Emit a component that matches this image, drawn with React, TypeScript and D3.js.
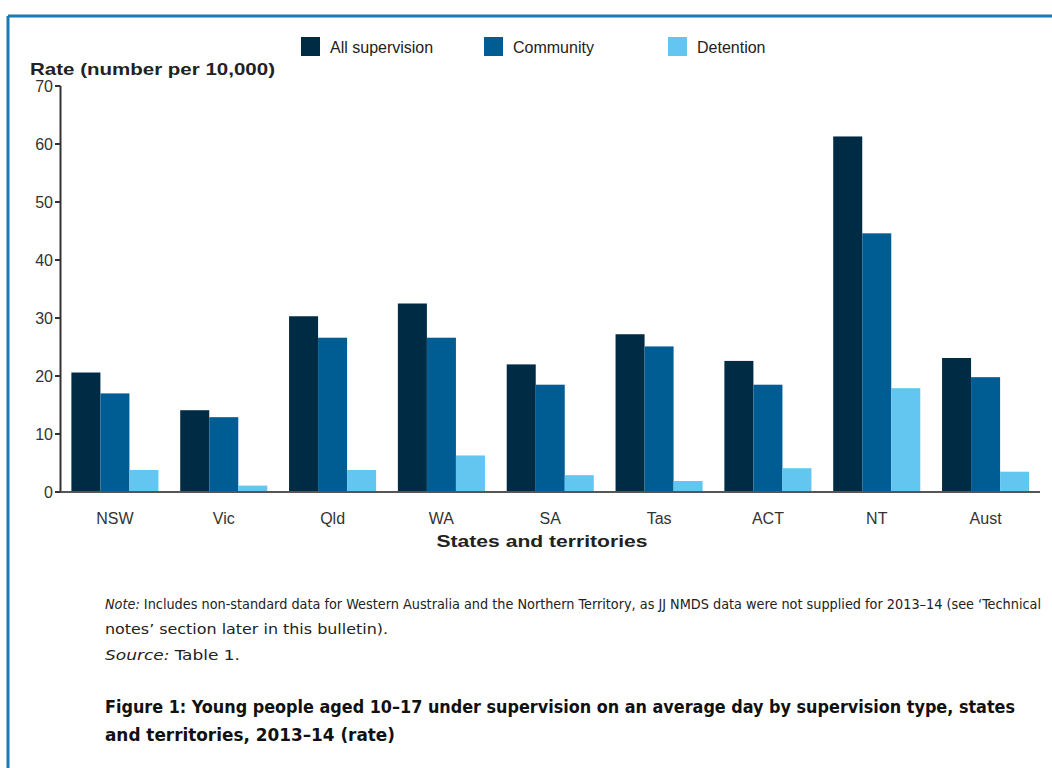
import React from "react";
import * as d3 from "d3";

const categories = ["NSW", "Vic", "Qld", "WA", "SA", "Tas", "ACT", "NT", "Aust"];
const seriesNames = ["All supervision", "Community", "Detention"];
const allSupervision = [20.6, 14.1, 30.3, 32.5, 22.0, 27.2, 22.6, 61.3, 23.1];
const community = [17.0, 12.9, 26.6, 26.6, 18.5, 25.1, 18.5, 44.6, 19.8];
const detention = [3.8, 1.1, 3.8, 6.3, 2.9, 1.9, 4.1, 17.9, 3.5];
const yTicks = [0, 10, 20, 30, 40, 50, 60, 70];
const colors = ["#002b45", "#005d94", "#62c6f0"];

const seriesValues = [allSupervision, community, detention];

export default function App() {
  const W = 1052;
  const H = 768;
  const x0 = 60.5;
  const x1 = 1040;
  const yBase = 492;
  const yTop = 86;

  const x = d3.scaleBand<string>().domain(categories).range([x0, x1]).paddingInner(0.2).paddingOuter(0.1);
  const xs = d3.scaleBand<string>().domain(seriesNames).range([0, x.bandwidth()]);
  const y = d3.scaleLinear().domain([0, 70]).range([yBase, yTop]);

  const chartFont = "'Liberation Sans', Arial, sans-serif";
  const noteFont = "'DejaVu Sans Condensed', 'Liberation Sans Narrow', 'Roboto', sans-serif";

  const legendX = [301, 484, 668];

  return (
    <svg width={W} height={H} style={{ position: "absolute", left: 0, top: 0, background: "#fff" }}>
      {/* frame */}
      <line x1={8} y1={16} x2={W} y2={16} stroke="#1a7ab5" strokeWidth={3} />
      <line x1={8} y1={16} x2={8} y2={H} stroke="#1a7ab5" strokeWidth={3} />

      {/* legend */}
      {seriesNames.map((s, i) => (
        <g key={s}>
          <rect x={legendX[i]} y={37} width={19} height={19} fill={colors[i]} />
          <text x={legendX[i] + 29} y={53} fontFamily={chartFont} fontSize={16} fill="#222">
            {s}
          </text>
        </g>
      ))}

      {/* y title */}
      <text x={30} y={75} fontFamily={chartFont} fontSize={17} fontWeight="bold" fill="#222" textLength={245} lengthAdjust="spacingAndGlyphs">
        Rate (number per 10,000)
      </text>

      {/* bars */}
      {categories.map((c, ci) => (
        <g key={c}>
          {seriesNames.map((s, si) => (
            <rect
              key={s}
              x={(x(c) as number) + (xs(s) as number)}
              y={y(seriesValues[si][ci])}
              width={xs.bandwidth()}
              height={yBase - y(seriesValues[si][ci])}
              fill={colors[si]}
            />
          ))}
          <text
            x={(x(c) as number) + x.bandwidth() / 2}
            y={524}
            textAnchor="middle"
            fontFamily={chartFont}
            fontSize={16}
            fill="#333"
          >
            {c}
          </text>
        </g>
      ))}

      {/* axes */}
      <line x1={x0} y1={yTop} x2={x0} y2={yBase} stroke="#333" strokeWidth={2} />
      <line x1={55} y1={yBase} x2={x1} y2={yBase} stroke="#555" strokeWidth={2} />
      {yTicks.map((t) => (
        <g key={t}>
          <line x1={55} x2={x0} y1={y(t)} y2={y(t)} stroke="#333" strokeWidth={2} />
          <text x={53} y={y(t) + 6} textAnchor="end" fontFamily={chartFont} fontSize={16} fill="#333">
            {t}
          </text>
        </g>
      ))}

      <text x={542} y={547} textAnchor="middle" fontFamily={chartFont} fontSize={17} fontWeight="bold" fill="#222" textLength={211} lengthAdjust="spacingAndGlyphs">
        States and territories
      </text>

      {/* notes */}
      <text x={105} y={609} fontFamily={noteFont} fontSize={14} fill="#222" textLength={936} lengthAdjust="spacingAndGlyphs">
        <tspan fontStyle="italic">Note:</tspan> Includes non-standard data for Western Australia and the Northern Territory, as JJ NMDS data were not supplied for 2013–14 (see ‘Technical
      </text>
      <text x={105} y={634} fontFamily={noteFont} fontSize={14} fill="#222" textLength={283} lengthAdjust="spacingAndGlyphs">
        notes’ section later in this bulletin).
      </text>
      <text x={105} y={660} fontFamily={noteFont} fontSize={14} fill="#222" textLength={135} lengthAdjust="spacingAndGlyphs">
        <tspan fontStyle="italic">Source:</tspan> Table 1.
      </text>

      <text x={105} y={713} fontFamily={noteFont} fontSize={18} fontWeight="bold" fill="#111" textLength={910} lengthAdjust="spacingAndGlyphs">
        Figure 1: Young people aged 10–17 under supervision on an average day by supervision type, states
      </text>
      <text x={105} y={741} fontFamily={noteFont} fontSize={18} fontWeight="bold" fill="#111" textLength={290} lengthAdjust="spacingAndGlyphs">
        and territories, 2013–14 (rate)
      </text>
    </svg>
  );
}
